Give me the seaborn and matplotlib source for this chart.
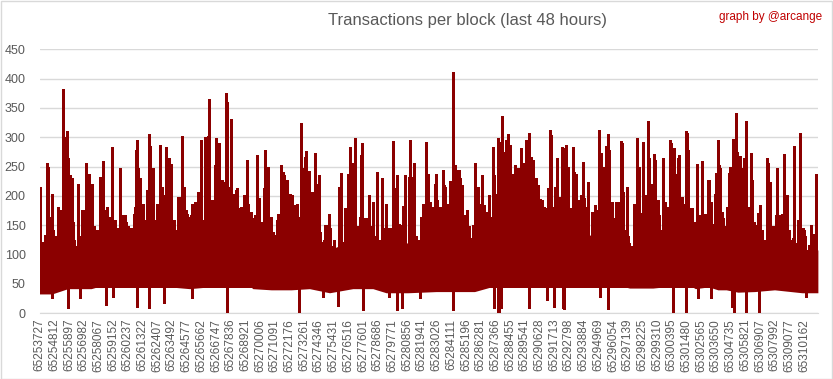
import numpy as np
import matplotlib
matplotlib.use("Agg")
import matplotlib.pyplot as plt
import seaborn as sns
from matplotlib.patches import Rectangle

# ---------------------------------- DATOS ----------------------------------
# posicion = indice del bloque dentro de la ventana de 48 horas
label_step = 1085
last_index = 57450

# etiquetas del eje x (numero de bloque cada 1085 bloques)
block_labels = [
    65253727, 65254812, 65255897, 65256982, 65258067, 65259152, 65260237, 65261322,
    65262407, 65263492, 65264577, 65265662, 65266747, 65267836, 65268921, 65270006,
    65271091, 65272176, 65273261, 65274346, 65275431, 65276516, 65277601, 65278686,
    65279771, 65280856, 65281941, 65283026, 65284111, 65285196, 65286281, 65287366,
    65288455, 65289541, 65290628, 65291713, 65292798, 65293884, 65294969, 65296054,
    65297139, 65298225, 65299310, 65300395, 65301480, 65302565, 65303650, 65304735,
    65305821, 65306907, 65307992, 65309077, 65310162]

# nucleo denso de la serie (indice, tope, fondo)
body_index = [0, 184, 922, 2091, 3813, 5043, 6027, 7072, 7687, 8487, 9594, 11070, 12546,
              14022, 15006, 15744, 17097, 18573, 19926, 21402, 23124, 24600, 25584, 27183,
              29274, 30750, 32103, 33333, 33948, 34440, 35547, 36715, 37330, 38191, 39175,
              40344, 41574, 42681, 43542, 44280, 45264, 46125, 47109, 48400, 49384, 50061,
              50676, 51537, 52767, 54243, 56272, 57441]
body_top = [70, 70, 95, 115, 108, 108, 122, 135, 130, 126, 120, 120, 135, 162, 135, 130, 115,
            140, 120, 108, 125, 120, 118, 120, 120, 140, 115, 138, 170, 190, 185, 175, 165,
            160, 150, 126, 158, 121, 98, 126, 138, 115, 158, 126, 126, 138, 115, 185, 126,
            121, 108, 108]
body_bottom = [33, 33, 33, 42, 42, 50, 50, 68, 45, 45, 45, 42, 45, 75, 57, 42, 40, 40, 42, 35,
               42, 42, 35, 35, 37, 37, 37, 45, 60, 80, 94, 97, 70, 74, 74, 56, 57, 48, 43, 43,
               43, 45, 60, 42, 45, 40, 40, 36, 37, 40, 35, 35]

# picos altos
spike_index = [
    0, 221, 320, 517, 664, 861, 959, 1156, 1402, 1525, 1771, 1845, 1943, 2017, 2116, 2165, 2239,
    2362, 2435, 2509, 2854, 3124, 3223, 3419, 3616, 3690, 3911, 4010, 4428, 4551, 4699, 4748,
    5018, 5092, 5314, 5584, 5904, 6002, 6199, 6322, 6937, 7011, 7109, 7159, 7282, 7380, 7503,
    7651, 7724,
    8106, 8167, 8339, 8512, 8684, 8905, 9004, 9176, 9348, 9569, 9717, 9938, 10234, 10381, 10529,
    10627, 10799, 11021, 11218, 11390, 11710, 11931, 12103, 12226, 12374, 12448, 12521, 12718,
    12940, 13038, 13136, 13210, 13309, 13481, 13678, 13776, 13850, 13924, 14022, 14145, 14317,
    14588, 14858, 15080, 15326, 15523, 15867, 16064, 16187, 16359, 16531, 16605, 16728, 16876,
    17146, 17318, 17564, 17835, 17933, 18056,
    18106, 18278, 18499, 18598, 18721, 18868, 19016, 19139, 19262, 19385, 19582, 19680, 19901,
    20074, 20270, 20344, 20443, 20590, 20787, 21058, 21328, 21427, 21697, 21919, 22115, 22263,
    22558, 22730, 22927, 23050, 23198, 23296, 23542, 23690, 23813, 24010, 24157, 24329, 24526,
    24920, 25240, 25584, 25805, 26101, 26199, 26347, 26543, 26839, 26962, 27281, 27355, 27527,
    27650, 27773, 28167,
    28315, 28536, 28634, 28782, 29003, 29176, 29274, 29446, 29569, 29741, 29864, 30061, 30258,
    30356, 30479, 30652, 30799, 30947, 31045, 31193, 31390, 31562, 31734, 31955, 32103, 32226,
    32349, 32497, 32644, 32792, 32964, 33161, 33308, 33456, 33554, 33702, 33800, 33874, 33948,
    34096, 34243, 34391, 34538, 34686, 34784, 34932, 35104, 35227, 35375, 35522, 35670, 35867,
    35965, 36088, 36260, 36408, 36605, 36752, 36900, 37097, 37294, 37490, 37663, 37736, 37933,
    38056, 38204, 38376, 38524, 38671,
    38720, 38868, 38966, 39163, 39335, 39458, 39557, 39704, 39827, 39950, 40073, 40196, 40319,
    40492, 40688, 40811, 40984, 41156, 41254, 41402, 41525, 41648, 41771, 41845, 41943, 42041,
    42189, 42361, 42509, 42681, 42878, 42952, 43050, 43321, 43493, 43665, 43886, 44009, 44083,
    44206, 44378, 44526, 44624, 44747, 44895, 44944, 45092, 45215, 45313, 45436, 45608, 45731,
    45830, 45977, 46150, 46248, 46346, 46494, 46617, 46740, 46838, 46961, 47084, 47207, 47306,
    47429, 47576, 47675, 47773, 47872, 48019, 48142, 48290, 48487, 48610, 48757, 48905, 49052,
    49102, 49298, 49397, 49544, 49741, 49840, 49913, 50036, 50110, 50184, 50332, 50455, 50578,
    50725, 50873, 50971, 51045, 51143, 51217, 51291, 51389, 51463, 51586, 51660, 51783, 51881,
    51980, 52103, 52250, 52373, 52472, 52570, 52718, 52865, 52988, 53136, 53333, 53480, 53677,
    53776, 53923, 54071, 54218, 54341, 54440, 54563, 54661, 54809, 54932, 55055, 55153, 55301,
    55448, 55547, 55645, 55842, 55990, 56088, 56236, 56383, 56580, 56777, 56949, 57121, 57269,
    57343, 57416]
spike_values = [
    216, 119, 114, 257, 249, 165, 204, 131, 182, 176, 382, 301, 270, 311, 264, 230, 236,
    230, 221, 156, 221, 176, 170, 257, 238, 199, 221, 148, 233, 216, 260, 176,
    182, 165, 284, 156, 247, 148, 168, 168, 170, 182, 279, 295, 248, 230, 159,
    187, 154,
    305, 285, 248, 156, 187, 287, 216, 202, 283, 264, 254, 159, 199, 176, 302,
    216, 176, 159, 187, 176, 207, 295, 159, 300, 213, 302, 366, 193,
    253, 298, 278, 290, 176, 227, 224, 375, 361, 216, 216, 332, 204,
    213, 179, 202, 261, 148, 168, 270, 196, 156, 213, 279, 202, 250,
    139, 133, 170, 253, 241, 236,
    199, 227, 204, 202, 148, 185, 176, 165, 324, 247, 266, 277, 242,
    207, 190, 274, 221, 236, 119, 150, 170, 145, 125, 111, 216, 240,
    179, 237, 283, 257, 170, 298, 142, 270, 290, 162, 162, 202, 148,
    241, 230, 187, 145, 294, 213, 236, 153, 183, 236, 232, 295, 233,
    257, 131, 165,
    187, 292, 238, 190, 182, 221, 238, 173, 182, 244, 219, 187, 226,
    210, 412, 253, 244, 244, 230, 219, 150, 176, 122, 150, 257, 202,
    216, 187, 236, 185, 131, 202, 159, 284, 236, 204, 299, 292, 292,
    337, 275, 295, 305, 287, 238, 238, 253, 247, 247, 281, 256, 295,
    230, 307, 267, 261, 230, 219, 194, 193, 179, 210, 312, 304, 182,
    216, 264, 199, 283, 281,
    273, 287, 250, 159, 283, 241, 238, 193, 166, 201, 258, 196, 175,
    224, 128, 170, 185, 170, 312, 274, 241, 250, 285, 283, 305, 278,
    182, 162, 187, 190, 294, 291, 207, 216, 119, 114, 187, 173, 298,
    250, 171, 292, 182, 202, 328, 264, 159, 221, 271, 261, 193, 168,
    142, 264, 189, 114, 156, 295, 290, 236, 281, 238, 264, 270, 179,
    198, 187, 311, 307, 278, 179, 179, 156, 254, 162, 148, 260, 131,
    170, 228, 228, 190, 153, 204, 240, 295, 253, 247, 173, 162, 108,
    182, 240, 250, 207, 297, 290, 273, 341, 275, 207, 268, 247, 207,
    264, 327, 182, 156, 273, 227, 156, 125, 171, 185, 142, 125, 264,
    257, 224, 148, 131, 168, 247, 168, 159, 170, 271, 202, 202, 114,
    125, 125, 285, 108, 159, 308, 145, 142, 108, 105, 150, 125, 237,
    210, 182]

# picos medianos (borde irregular del nucleo)
fringe_index = [
    184, 332, 430, 750, 873, 996, 1119, 1242, 1365, 1513,
    1611, 2349, 2546, 2644, 2964, 3087, 3210, 3333, 3456, 3579,
    3702, 3825, 4071, 4219, 4563, 4686, 4809, 5104, 5252, 5424,
    5596, 5793, 5916, 6088, 6236, 6408, 6531, 6728, 6974, 7097,
    7269, 7515, 7638, 7761, 7958, 8081, 8253, 8450, 8647, 8794,
    8942, 9114, 9286, 9680, 9852, 9975, 10172, 10270, 10418, 10762,
    10910, 11082, 11205, 11353, 11500, 11648, 11820, 11943,
    12140, 12558, 12730, 12878, 13296, 13419, 13542, 14354, 14526, 14649,
    14846, 14969, 15092, 15264, 15387, 15510, 15633, 15756, 15879, 16027,
    16322, 16420, 16740, 17060, 17232, 17355, 17503, 17650, 18142, 18290,
    18462, 18585, 18733, 18880, 19003, 19151, 19323, 19471, 19618, 19815,
    20110, 20258, 20430, 20553, 20701, 20848, 20995, 21143, 21291, 21463,
    21586, 21734, 21906, 22029, 22324, 22521, 22669, 22816, 23136, 23259,
    23456, 23628, 23751,
    23800, 23948, 24120, 24243, 24440, 24612, 24735, 24858, 25030, 25178,
    25350, 25473, 25596, 25719, 25842, 25965, 26088, 26260, 26408, 26580,
    26703, 26826, 26949, 27072, 27195, 27490, 27638, 27810, 27933, 28081,
    28228, 28376, 28523, 28671, 28868, 29040, 29163, 29311, 29458, 29606,
    29778, 29901, 30098, 30245, 30393, 31008, 31180, 31328, 31500, 31672,
    31820, 31968, 32115, 32263, 32410, 32558, 32730, 32853, 33050, 33222,
    33345, 33591, 33788,
    36174, 36420, 36666, 36838, 37035, 37232, 37404, 37527, 37896, 38068,
    38216, 38388, 38511, 38708, 38880, 39052, 39249, 39446, 39593, 39741,
    39889, 40036, 40184, 40356, 40479, 40602, 40774, 40922, 41094, 41955,
    42103, 42250, 42398, 42570, 42693, 42840, 42988, 43136, 43431, 43579,
    43726, 44021, 44169, 44316, 44464, 44612, 44759, 44907, 45055, 45202,
    45350, 45645, 45793, 45940, 46088, 46260, 46383, 46531, 47170, 47367,
    48007, 48154, 48302, 48474, 48646, 48794, 48966, 49138, 49458, 49581,
    49901, 50073, 50221, 50368, 50491, 50639, 50762, 51869, 52041, 52189,
    52336, 52484, 52631, 52779, 52902, 53025, 53173, 53320, 53468, 53812,
    53960, 54107, 54255, 54403, 54550, 54698, 54845, 54993, 55141, 55288,
    55436, 55583, 55731, 55879, 56026, 56174, 56321, 56469, 56617, 56764,
    56912, 57084, 57355]
fringe_values = [
    122, 114, 133, 114, 148, 142, 111, 131, 182, 176,
    156, 156, 125, 114, 111, 131, 176, 136, 153, 196,
    133, 153, 131, 142, 136, 182, 116, 133, 136, 131,
    159, 145, 159, 168, 168, 156, 148, 145, 170, 187,
    187, 142, 150, 159, 210, 193, 170, 159, 156, 182,
    199, 202, 187, 136, 159, 131, 142, 199, 142, 133,
    170, 165, 168, 176, 190, 162, 159, 125,
    133, 139, 131, 125, 136, 179, 162, 182, 210, 179,
    182, 153, 150, 116, 187, 133, 173, 162, 165, 125,
    150, 148, 133, 165, 139, 133, 159, 139, 202, 199,
    176, 179, 153, 170, 187, 142, 176, 150, 156, 165,
    170, 159, 133, 122, 139, 122, 125, 150, 148, 122,
    114, 125, 108, 94, 122, 136, 165, 159, 187, 165,
    148, 165, 148,
    122, 131, 159, 145, 148, 190, 131, 116, 125, 122,
    145, 94, 131, 136, 145, 116, 125, 153, 156, 150,
    114, 136, 159, 97, 99, 142, 131, 131, 125, 114,
    116, 125, 176, 187, 159, 150, 156, 193, 165, 148,
    170, 216, 187, 162, 159, 182, 153, 168, 150, 148,
    128, 150, 142, 136, 136, 145, 133, 139, 173, 165,
    162, 187, 196,
    210, 190, 187, 193, 190, 182, 153, 213, 150, 159,
    202, 156, 159, 187, 165, 173, 179, 159, 179, 168,
    153, 165, 173, 182, 213, 131, 173, 168, 176, 133,
    176, 190, 159, 190, 182, 159, 170, 142, 131, 114,
    114, 170, 153, 170, 153, 131, 165, 148, 165, 176,
    165, 165, 131, 136, 133, 114, 182, 182, 159, 182,
    142, 179, 136, 142, 168, 162, 170, 142, 159, 131,
    156, 142, 176, 133, 148, 105, 182, 131, 159, 136,
    142, 150, 131, 150, 148, 133, 119, 119, 114, 114,
    136, 148, 145, 148, 153, 159, 148, 131, 131, 142,
    122, 128, 114, 119, 153, 142, 145, 131, 108, 116,
    131, 136, 131]

# caidas hacia abajo
dip_index = [910, 2140, 3001, 4920, 5437, 7208, 8093, 9176, 11218, 13801, 13850,
             19163, 20885, 22042, 23837, 25781, 26396, 26765, 28069,
             30479, 33505, 33800, 33899, 34046, 35596, 36088, 37441, 37933,
             38622, 38720, 41328, 41918, 46715, 47724, 48585,
             49569, 51094, 51217, 52103, 53062, 56580]
dip_values = [26, 9, 26, 14, 28, 11, 9, 17, 26, 11, 1,
              3, 28, 12, 6, 28, 6, 9, 26,
              6, 9, 3, 3, 9, 57, 9, 23, 11,
              9, 7, 27, 7, 1, 1, 26,
              26, 11, 3, 3, 1, 28]

y_ticks = [0, 50, 100, 150, 200, 250, 300, 350, 400, 450]

# ---------------------------------- GRAFICO ----------------------------------
sns.set_style("white")
plt.rcParams['font.family'] = ['Liberation Sans', 'DejaVu Sans']

color_serie = "#8B0000"
color_texto = "#595959"
color_rejilla = "#D9D9D9"

fig = plt.figure(figsize=(8.33, 3.79), dpi=100)
ax = fig.add_axes([39.5 / 833, 1 - 313.3 / 379, (818 - 39.5) / 833, (313.3 - 49.3) / 379])

# Nucleo de la serie
ax.fill_between(body_index, body_bottom, body_top, color=color_serie, lw=0, zorder=2)

# Picos, borde irregular y caidas (sin antialias: color solido como el original)
ax.vlines(spike_index, 45, spike_values, color=color_serie, lw=1.0,
          antialiased=False, zorder=3)
ax.vlines(fringe_index, 45, fringe_values, color=color_serie, lw=0.8,
          antialiased=False, zorder=3)
ax.vlines(dip_index, dip_values, 85, color=color_serie, lw=0.8,
          antialiased=False, zorder=3)

# Ejes y rejilla
ax.set_xlim(0, last_index)
ax.set_ylim(0, 450)
ax.set_yticks(y_ticks)
ax.yaxis.grid(True, color=color_rejilla, lw=1)
ax.set_axisbelow(True)

ax.set_xticks([i * label_step for i in range(len(block_labels))])
ax.set_xticklabels([str(b) for b in block_labels], rotation=90)
ax.tick_params(axis="x", length=0, pad=4, labelsize=8.5, labelcolor=color_texto)
ax.tick_params(axis="y", length=0, pad=10, labelsize=9, labelcolor=color_texto)

for s in ["top", "right", "left"]:
    ax.spines[s].set_visible(False)
ax.spines["bottom"].set_color(color_rejilla)

# Titulos
fig.text(468 / 833, 1 - 20 / 379, "Transactions per block (last 48 hours)",
         ha="center", va="center", fontsize=12, color=color_texto)
fig.text(822 / 833, 1 - 17 / 379, "graph by @arcange",
         ha="right", va="center", fontsize=8.5, color="#C00000")

# Borde del grafico
fig.patches.append(Rectangle((0.5 / 833, 0.5 / 379), 1 - 1.5 / 833, 1 - 1.5 / 379,
                             transform=fig.transFigure, fill=False,
                             edgecolor=color_rejilla, lw=1))

fig.savefig("out.png", dpi=100)
